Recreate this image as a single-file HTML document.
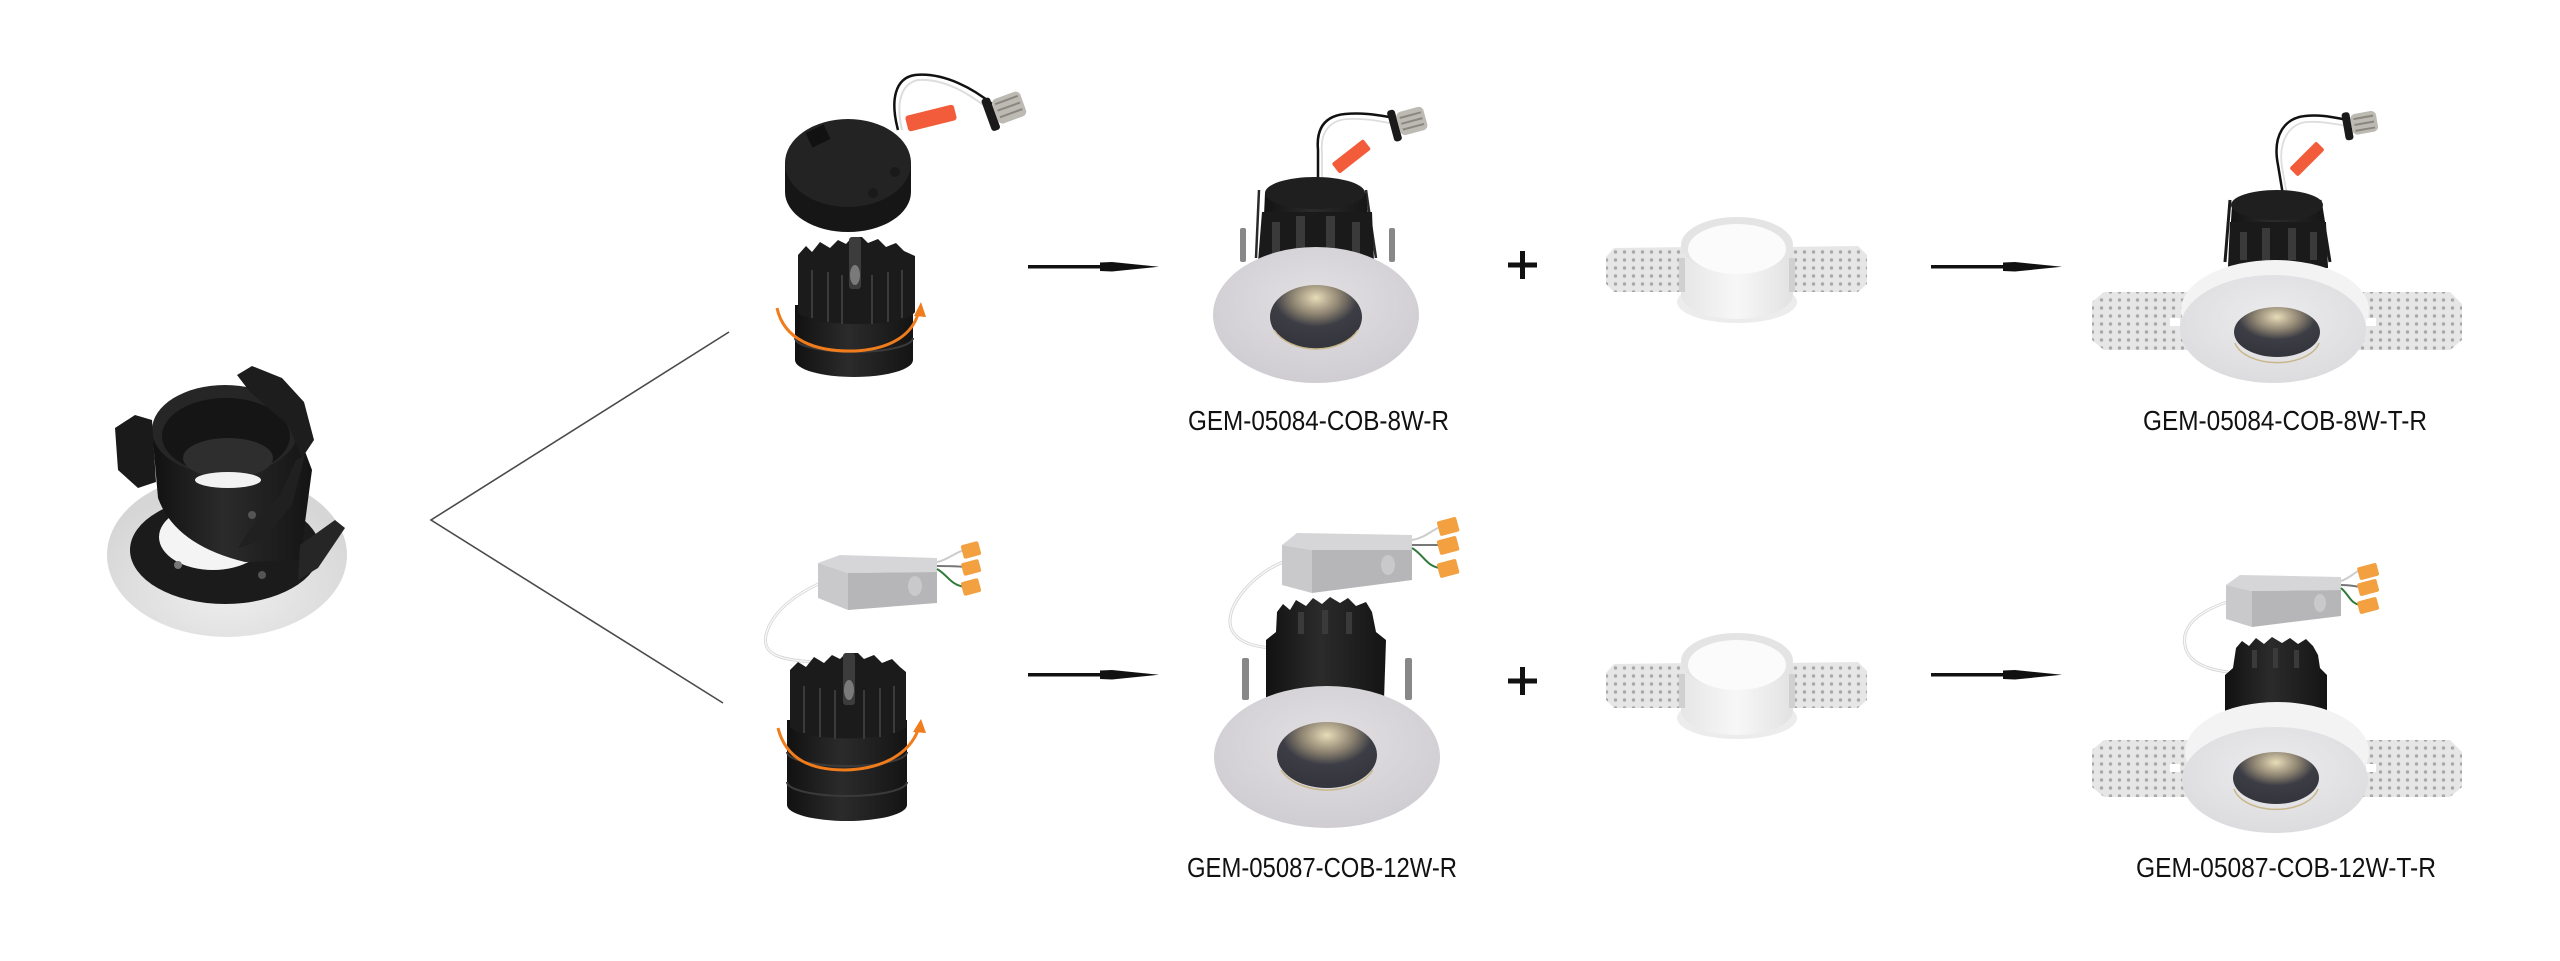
<!DOCTYPE html>
<html>
<head>
<meta charset="utf-8">
<style>
html,body{margin:0;padding:0;background:#fff;}
body{width:2560px;height:961px;overflow:hidden;}
svg{display:block;}
text{font-family:"Liberation Sans",Arial,sans-serif;}
</style>
</head>
<body>
<svg width="2560" height="961" viewBox="0 0 2560 961" xmlns="http://www.w3.org/2000/svg">
<defs>
  <pattern id="dots" width="9" height="8" patternUnits="userSpaceOnUse">
    <rect width="9" height="8" fill="#e6e6e6"/>
    <circle cx="4.5" cy="4" r="1.7" fill="#a9a9a9"/>
  </pattern>
  <radialGradient id="discG" cx="50%" cy="40%" r="60%">
    <stop offset="0" stop-color="#e2e0e3"/>
    <stop offset="1" stop-color="#cfcdd1"/>
  </radialGradient>
  <radialGradient id="discW" cx="50%" cy="40%" r="60%">
    <stop offset="0" stop-color="#ececee"/>
    <stop offset="1" stop-color="#dcdcdf"/>
  </radialGradient>
  <radialGradient id="apG" cx="50%" cy="20%" r="75%">
    <stop offset="0" stop-color="#e8dcb8"/>
    <stop offset="0.35" stop-color="#8c8270"/>
    <stop offset="0.6" stop-color="#3c3d45"/>
    <stop offset="1" stop-color="#34353d"/>
  </radialGradient>
  <linearGradient id="blackG" x1="0" x2="1" y1="0" y2="0">
    <stop offset="0" stop-color="#111"/>
    <stop offset="0.45" stop-color="#2b2b2b"/>
    <stop offset="1" stop-color="#141414"/>
  </linearGradient>
  <radialGradient id="flangeG" cx="50%" cy="70%" r="60%">
    <stop offset="0" stop-color="#efefef"/>
    <stop offset="1" stop-color="#d6d6d6"/>
  </radialGradient>
  <linearGradient id="ringG" x1="0" x2="1">
    <stop offset="0" stop-color="#e6e6e6"/>
    <stop offset="0.5" stop-color="#f7f7f7"/>
    <stop offset="1" stop-color="#e2e2e2"/>
  </linearGradient>
</defs>

<rect width="2560" height="961" fill="#fff"/>

<!-- ========== LEFT FIXTURE ========== -->
<g>
  <ellipse cx="227" cy="555" rx="120" ry="82" fill="url(#flangeG)"/>
  <ellipse cx="225" cy="550" rx="95" ry="54" fill="#1b1b1b"/>
  <ellipse cx="213" cy="537" rx="54" ry="33" fill="#f4f4f4"/>
  <path d="M152,430 L158,498 Q175,545 245,562 L300,560 L312,470 L297,430 Z" fill="url(#blackG)"/>
  <ellipse cx="225" cy="430" rx="73" ry="45" fill="#262626"/>
  <ellipse cx="226" cy="436" rx="64" ry="38" fill="#151515"/>
  <ellipse cx="228" cy="458" rx="45" ry="20" fill="#2e2e2e"/>
  <ellipse cx="228" cy="480" rx="33" ry="8" fill="#f2f2f2"/>
  <path d="M115,428 L135,415 L152,420 L156,482 L138,488 L118,470 Z" fill="#1a1a1a"/>
  <path d="M237,375 L252,366 L282,378 L304,402 L314,440 L302,458 L288,425 L250,392 Z" fill="#1d1d1d"/>
  <path d="M305,455 L292,505 L262,540 L238,548 L250,530 L280,495 L296,460 Z" fill="#202020"/>
  <path d="M300,545 L335,520 L345,528 L318,568 L298,580 Z" fill="#262626"/>
  <circle cx="252" cy="515" r="4" fill="#555"/>
  <circle cx="178" cy="565" r="4" fill="#777"/>
  <circle cx="262" cy="575" r="4" fill="#555"/>
</g>

<!-- ========== V LINES ========== -->
<polyline points="729,332 431,520 723,703" fill="none" stroke="#4a4a4a" stroke-width="1.6"/>

<!-- ========== ROW 1 : PUCK DRIVER + HEAT SINK ========== -->
<g>
  <path d="M898,130 C890,100 895,78 915,75 C945,72 975,90 992,104" fill="none" stroke="#111" stroke-width="2.5"/>
  <path d="M902,130 C896,104 900,84 918,80 C946,78 972,96 990,110" fill="none" stroke="#ddd" stroke-width="2"/>
  <rect x="906" y="110" width="50" height="16" rx="3" fill="#f25c3a" transform="rotate(-14 931 118)"/>
  <g transform="rotate(-20 1005 108)">
    <rect x="985" y="92" width="9" height="34" rx="3" fill="#1a1a1a"/>
    <rect x="994" y="96" width="30" height="26" rx="5" fill="#bdbab4"/>
    <line x1="997" y1="101" x2="1021" y2="101" stroke="#8a877f" stroke-width="2"/>
    <line x1="997" y1="108" x2="1021" y2="108" stroke="#8a877f" stroke-width="2"/>
    <line x1="997" y1="115" x2="1021" y2="115" stroke="#8a877f" stroke-width="2"/>
  </g>
  <path d="M785,165 A63,45 0 0 1 911,165 L911,192 A63,40 0 0 1 785,192 Z" fill="#161616"/>
  <ellipse cx="848" cy="163" rx="63" ry="44" fill="#232323"/>
  <rect x="808" y="128" width="20" height="16" fill="#111" transform="rotate(-25 818 136)"/>
  <circle cx="895" cy="172" r="5" fill="#1a1a1a"/>
  <circle cx="873" cy="193" r="5" fill="#1a1a1a"/>

  <path d="M795,305 L795,360 A59,17 0 0 0 913,360 L913,305 Z" fill="url(#blackG)"/>
  <path d="M795,338 A59,14 0 0 0 913,338" fill="none" stroke="#3a3a3a" stroke-width="2"/>
  <path d="M798,255 L806,246 L812,252 L820,242 L830,248 L838,240 L846,244 L852,237 L862,237 L868,243 L878,239 L886,247 L896,243 L904,251 L915,256 L915,312 A59,14 0 0 1 798,312 Z" fill="#1b1b1b"/>
  <g stroke="#3b3b3b" stroke-width="2">
    <line x1="812" y1="270" x2="812" y2="318"/>
    <line x1="828" y1="272" x2="828" y2="322"/>
    <line x1="842" y1="275" x2="842" y2="324"/>
    <line x1="872" y1="275" x2="872" y2="324"/>
    <line x1="888" y1="272" x2="888" y2="322"/>
    <line x1="902" y1="270" x2="902" y2="318"/>
  </g>
  <rect x="849" y="237" width="12" height="52" rx="3" fill="#3c3c3c"/>
  <ellipse cx="855" cy="275" rx="5" ry="10" fill="#7a7a7a"/>
  <path d="M777,308 C784,340 815,352 855,351 C892,349 912,334 918,314" fill="none" stroke="#f07c1c" stroke-width="3"/>
  <polygon points="921,302 914,316 926,317" fill="#f07c1c"/>
</g>

<!-- ========== ROW 2 : BOX DRIVER + HEAT SINK ========== -->
<g>
  <path d="M835,577 C800,590 772,610 766,635 C762,655 780,660 815,662" fill="none" stroke="#d2d2d2" stroke-width="3"/>
  <path d="M835,577 C800,590 772,610 766,635 C762,655 780,660 815,662" fill="none" stroke="#f7f7f7" stroke-width="1.5"/>
  <polygon points="818,563 840,555 937,558 937,572 848,573" fill="#d6d6d8"/>
  <polygon points="818,563 848,573 848,610 818,598" fill="#c9c9cc"/>
  <polygon points="848,573 937,572 937,603 848,610" fill="#b6b6b9"/>
  <ellipse cx="915" cy="586" rx="7" ry="10" fill="#c9c9cc"/>
  <path d="M937,562 C948,560 955,552 965,550" fill="none" stroke="#ccc" stroke-width="2"/>
  <path d="M937,566 C950,566 955,566 965,567" fill="none" stroke="#777" stroke-width="2"/>
  <path d="M937,569 C948,575 950,585 965,587" fill="none" stroke="#2f7a3a" stroke-width="2"/>
  <g fill="#f2a040">
    <rect x="962" y="543" width="18" height="14" rx="2" transform="rotate(-15 971 550)"/>
    <rect x="962" y="561" width="18" height="13" rx="2" transform="rotate(-15 971 567)"/>
    <rect x="962" y="580" width="18" height="14" rx="2" transform="rotate(-15 971 587)"/>
  </g>
  <path d="M787,720 L787,805 A60,16 0 0 0 907,805 L907,720 Z" fill="url(#blackG)"/>
  <path d="M787,752 A60,14 0 0 0 907,752" fill="none" stroke="#3a3a3a" stroke-width="2"/>
  <path d="M787,782 A60,14 0 0 0 907,782" fill="none" stroke="#3a3a3a" stroke-width="2"/>
  <path d="M790,670 L798,662 L806,667 L814,657 L824,663 L832,655 L840,659 L846,653 L858,653 L864,659 L874,655 L882,663 L892,659 L900,667 L906,672 L906,727 A59,14 0 0 1 790,727 Z" fill="#1b1b1b"/>
  <g stroke="#3b3b3b" stroke-width="2">
    <line x1="804" y1="686" x2="804" y2="733"/>
    <line x1="820" y1="688" x2="820" y2="737"/>
    <line x1="835" y1="690" x2="835" y2="739"/>
    <line x1="864" y1="690" x2="864" y2="739"/>
    <line x1="880" y1="688" x2="880" y2="737"/>
    <line x1="894" y1="686" x2="894" y2="733"/>
  </g>
  <rect x="843" y="653" width="12" height="52" rx="3" fill="#3c3c3c"/>
  <ellipse cx="849" cy="690" rx="5" ry="10" fill="#7a7a7a"/>
  <path d="M778,728 C786,760 812,770 845,770 C885,769 910,752 918,730" fill="none" stroke="#f07c1c" stroke-width="3"/>
  <polygon points="921,719 913,732 926,733" fill="#f07c1c"/>
</g>

<!-- ========== ARROWS ========== -->
<g fill="#111">
  <rect x="1028" y="265" width="78" height="3.5"/>
  <polygon points="1100,262.5 1112,262 1159,266.8 1112,271.5 1100,271"/>
  <rect x="1931" y="265" width="78" height="3.5"/>
  <polygon points="2003,262.5 2015,262 2062,266.8 2015,271.5 2003,271"/>
  <rect x="1028" y="673" width="78" height="3.5"/>
  <polygon points="1100,670.5 1112,670 1159,674.8 1112,679.5 1100,679"/>
  <rect x="1931" y="673" width="78" height="3.5"/>
  <polygon points="2003,670.5 2015,670 2062,674.8 2015,679.5 2003,679"/>
</g>

<!-- ========== PLUS SIGNS ========== -->
<g fill="#111">
  <rect x="1508" y="262.5" width="29" height="5"/>
  <rect x="1520" y="251" width="5" height="28"/>
  <rect x="1508" y="678.5" width="29" height="5"/>
  <rect x="1520" y="667" width="5" height="28"/>
</g>

<!-- ========== ROW 1 : FIXTURE 8W-R ========== -->
<g>
  <path d="M1318,178 L1318,150 C1316,128 1325,116 1345,114 C1365,112 1382,116 1396,118" fill="none" stroke="#111" stroke-width="2.5"/>
  <path d="M1322,178 L1322,152 C1320,132 1330,120 1348,119 C1368,118 1382,122 1396,124" fill="none" stroke="#ddd" stroke-width="1.8"/>
  <rect x="1331" y="150" width="40" height="13" rx="2" fill="#f25c3a" transform="rotate(-38 1351 156)"/>
  <g transform="rotate(-15 1408 122)">
    <rect x="1390" y="106" width="8" height="32" rx="3" fill="#1a1a1a"/>
    <rect x="1398" y="110" width="28" height="24" rx="5" fill="#bdbab4"/>
    <line x1="1401" y1="116" x2="1423" y2="116" stroke="#8a877f" stroke-width="2"/>
    <line x1="1401" y1="122" x2="1423" y2="122" stroke="#8a877f" stroke-width="2"/>
    <line x1="1401" y1="128" x2="1423" y2="128" stroke="#8a877f" stroke-width="2"/>
  </g>
  <path d="M1259,190 L1256,258" stroke="#2a2a2a" stroke-width="2.5"/>
  <path d="M1366,190 L1376,258" stroke="#2a2a2a" stroke-width="2.5"/>
  <rect x="1240" y="228" width="6" height="34" rx="2" fill="#888"/>
  <rect x="1389" y="228" width="6" height="34" rx="2" fill="#888"/>
  <path d="M1265,193 L1262,260 L1372,260 L1366,193 Z" fill="url(#blackG)"/>
  <path d="M1262,212 L1372,212 L1374,262 L1258,262 Z" fill="#1a1a1a"/>
  <g fill="#3a3a3a">
    <rect x="1272" y="222" width="8" height="32"/>
    <rect x="1296" y="216" width="9" height="36"/>
    <rect x="1326" y="216" width="9" height="36"/>
    <rect x="1352" y="222" width="8" height="32"/>
  </g>
  <ellipse cx="1315" cy="193" rx="50" ry="16" fill="#1f1f1f"/>
  <ellipse cx="1316" cy="315" rx="103" ry="68" fill="url(#discG)"/>
  <ellipse cx="1316" cy="317" rx="46" ry="32" fill="url(#apG)"/>
  <path d="M1274,330 A46,32 0 0 0 1358,330" fill="none" stroke="#c8b68a" stroke-width="1.5"/>
</g>

<!-- ========== ROW 2 : FIXTURE 12W-R ========== -->
<g>
  <path d="M1297,557 C1270,565 1250,580 1237,600 C1222,625 1230,645 1272,648" fill="none" stroke="#d2d2d2" stroke-width="3"/>
  <path d="M1297,557 C1270,565 1250,580 1237,600 C1222,625 1230,645 1272,648" fill="none" stroke="#f7f7f7" stroke-width="1.5"/>
  <polygon points="1282,545 1297,533 1412,535 1412,550 1312,550" fill="#d6d6d8"/>
  <polygon points="1282,545 1312,550 1312,593 1282,585" fill="#c9c9cc"/>
  <polygon points="1312,550 1412,550 1412,580 1312,593" fill="#b6b6b9"/>
  <ellipse cx="1388" cy="565" rx="7" ry="10" fill="#c9c9cc"/>
  <path d="M1412,540 C1425,538 1432,530 1440,527" fill="none" stroke="#ccc" stroke-width="2"/>
  <path d="M1412,545 C1425,545 1430,545 1440,545" fill="none" stroke="#777" stroke-width="2"/>
  <path d="M1412,548 C1424,555 1426,566 1440,568" fill="none" stroke="#2f7a3a" stroke-width="2"/>
  <g fill="#f2a040">
    <rect x="1438" y="519" width="20" height="15" rx="2" transform="rotate(-15 1448 526)"/>
    <rect x="1438" y="538" width="20" height="15" rx="2" transform="rotate(-15 1448 545)"/>
    <rect x="1438" y="561" width="20" height="15" rx="2" transform="rotate(-15 1448 568)"/>
  </g>
  <rect x="1242" y="658" width="7" height="42" rx="2" fill="#888"/>
  <rect x="1405" y="658" width="7" height="42" rx="2" fill="#888"/>
  <path d="M1277,612 L1283,604 L1290,610 L1296,600 L1306,606 L1313,598 L1322,604 L1330,597 L1340,603 L1348,598 L1356,606 L1366,602 L1372,612 L1376,632 L1386,640 L1384,700 L1266,700 L1266,640 L1276,632 Z" fill="url(#blackG)"/>
  <g fill="#3a3a3a">
    <rect x="1298" y="612" width="6" height="22"/>
    <rect x="1322" y="610" width="6" height="24"/>
    <rect x="1346" y="612" width="6" height="22"/>
  </g>
  <ellipse cx="1327" cy="757" rx="113" ry="71" fill="url(#discG)"/>
  <ellipse cx="1327" cy="755" rx="50" ry="33" fill="url(#apG)"/>
  <path d="M1281,770 A50,33 0 0 0 1373,770" fill="none" stroke="#c8b68a" stroke-width="1.5"/>
</g>

<!-- ========== TRIM FRAMES ========== -->
<g>
  <polygon points="1606,257 1614,248 1690,247 1690,292 1614,292 1606,284" fill="url(#dots)"/>
  <polygon points="1783,247 1858,246 1867,255 1867,284 1858,292 1783,292" fill="url(#dots)"/>
  <ellipse cx="1737" cy="302" rx="60" ry="21" fill="#ececec"/>
  <path d="M1681,245 L1681,295 A56,24 0 0 0 1793,295 L1793,245 Z" fill="url(#ringG)"/>
  <ellipse cx="1737" cy="245" rx="56" ry="28" fill="#e4e4e4"/>
  <ellipse cx="1737" cy="249" rx="49" ry="25" fill="#fbfbfb"/>
  <rect x="1679" y="258" width="6" height="34" fill="#d0d0d0"/>
  <rect x="1789" y="258" width="6" height="34" fill="#d0d0d0"/>
</g>
<g transform="translate(0,416)">
  <polygon points="1606,257 1614,248 1690,247 1690,292 1614,292 1606,284" fill="url(#dots)"/>
  <polygon points="1783,247 1858,246 1867,255 1867,284 1858,292 1783,292" fill="url(#dots)"/>
  <ellipse cx="1737" cy="302" rx="60" ry="21" fill="#ececec"/>
  <path d="M1681,245 L1681,295 A56,24 0 0 0 1793,295 L1793,245 Z" fill="url(#ringG)"/>
  <ellipse cx="1737" cy="245" rx="56" ry="28" fill="#e4e4e4"/>
  <ellipse cx="1737" cy="249" rx="49" ry="25" fill="#fbfbfb"/>
  <rect x="1679" y="258" width="6" height="34" fill="#d0d0d0"/>
  <rect x="1789" y="258" width="6" height="34" fill="#d0d0d0"/>
</g>

<!-- ========== ROW 1 : FINAL FIXTURE 8W-T-R ========== -->
<g>
  <path d="M2283,195 L2278,165 C2272,135 2285,118 2305,116 C2322,114 2336,118 2348,120" fill="none" stroke="#111" stroke-width="2.5"/>
  <path d="M2287,195 L2282,167 C2278,140 2290,124 2306,122 C2322,121 2334,124 2348,126" fill="none" stroke="#ddd" stroke-width="1.8"/>
  <rect x="2288" y="153" width="38" height="12" rx="2" fill="#f25c3a" transform="rotate(-45 2307 159)"/>
  <g transform="rotate(-10 2360 122)">
    <rect x="2343" y="110" width="8" height="28" rx="3" fill="#1a1a1a"/>
    <rect x="2351" y="113" width="26" height="21" rx="5" fill="#bdbab4"/>
    <line x1="2354" y1="118" x2="2374" y2="118" stroke="#8a877f" stroke-width="2"/>
    <line x1="2354" y1="124" x2="2374" y2="124" stroke="#8a877f" stroke-width="2"/>
    <line x1="2354" y1="130" x2="2374" y2="130" stroke="#8a877f" stroke-width="2"/>
  </g>
  <path d="M2230,200 L2225,262" stroke="#1a1a1a" stroke-width="3"/>
  <path d="M2320,200 L2330,262" stroke="#1a1a1a" stroke-width="3"/>
  <polygon points="2092,302 2104,292 2200,292 2200,350 2104,350 2092,340" fill="url(#dots)"/>
  <polygon points="2350,292 2450,292 2462,304 2462,340 2450,350 2350,350" fill="url(#dots)"/>
  <rect x="2170" y="318" width="10" height="8" fill="#fff"/>
  <rect x="2366" y="318" width="10" height="8" fill="#fff"/>
  <path d="M2232,205 L2228,268 L2328,268 L2322,205 Z" fill="url(#blackG)"/>
  <path d="M2230,222 L2326,222 L2328,268 L2228,268 Z" fill="#1a1a1a"/>
  <g fill="#3a3a3a">
    <rect x="2240" y="232" width="7" height="28"/>
    <rect x="2262" y="228" width="8" height="32"/>
    <rect x="2288" y="228" width="8" height="32"/>
    <rect x="2310" y="232" width="7" height="28"/>
  </g>
  <ellipse cx="2277" cy="205" rx="46" ry="15" fill="#1f1f1f"/>
  <ellipse cx="2275" cy="310" rx="94" ry="50" fill="#f3f3f3"/>
  <ellipse cx="2273" cy="329" rx="93" ry="54" fill="url(#discW)"/>
  <ellipse cx="2277" cy="332" rx="43" ry="25" fill="url(#apG)"/>
  <path d="M2235,343 A43,25 0 0 0 2319,343" fill="none" stroke="#c8b68a" stroke-width="1.5"/>
</g>

<!-- ========== ROW 2 : FINAL FIXTURE 12W-T-R ========== -->
<g>
  <path d="M2245,596 C2215,605 2190,615 2185,635 C2182,655 2195,668 2228,672" fill="none" stroke="#d2d2d2" stroke-width="3"/>
  <path d="M2245,596 C2215,605 2190,615 2185,635 C2182,655 2195,668 2228,672" fill="none" stroke="#f7f7f7" stroke-width="1.5"/>
  <polygon points="2226,585 2240,575 2341,577 2341,590 2252,591" fill="#d6d6d8"/>
  <polygon points="2226,585 2252,591 2252,627 2226,619" fill="#c9c9cc"/>
  <polygon points="2252,591 2341,590 2341,616 2252,627" fill="#b6b6b9"/>
  <ellipse cx="2320" cy="603" rx="6" ry="9" fill="#c9c9cc"/>
  <path d="M2341,581 C2350,578 2355,572 2360,570" fill="none" stroke="#ccc" stroke-width="2"/>
  <path d="M2341,585 C2350,585 2354,586 2360,587" fill="none" stroke="#777" stroke-width="2"/>
  <path d="M2341,588 C2350,596 2350,603 2360,605" fill="none" stroke="#2f7a3a" stroke-width="2"/>
  <g fill="#f2a040">
    <rect x="2358" y="565" width="20" height="13" rx="2" transform="rotate(-15 2368 571)"/>
    <rect x="2358" y="581" width="20" height="13" rx="2" transform="rotate(-15 2368 587)"/>
    <rect x="2358" y="599" width="20" height="13" rx="2" transform="rotate(-15 2368 605)"/>
  </g>
  <polygon points="2092,750 2104,740 2200,740 2200,797 2104,797 2092,787" fill="url(#dots)"/>
  <polygon points="2350,740 2450,740 2462,752 2462,787 2450,797 2350,797" fill="url(#dots)"/>
  <rect x="2170" y="764" width="10" height="8" fill="#fff"/>
  <rect x="2366" y="764" width="10" height="8" fill="#fff"/>
  <path d="M2236,648 L2242,641 L2249,646 L2256,638 L2264,644 L2272,637 L2282,643 L2290,638 L2298,644 L2306,639 L2313,646 L2318,655 L2320,668 L2327,675 L2327,728 L2225,728 L2225,675 L2233,668 Z" fill="url(#blackG)"/>
  <g fill="#3a3a3a">
    <rect x="2252" y="650" width="5" height="18"/>
    <rect x="2273" y="648" width="5" height="20"/>
    <rect x="2294" y="650" width="5" height="18"/>
  </g>
  <ellipse cx="2277" cy="752" rx="92" ry="50" fill="#f3f3f3"/>
  <ellipse cx="2275" cy="780" rx="93" ry="53" fill="url(#discW)"/>
  <ellipse cx="2276" cy="778" rx="43" ry="26" fill="url(#apG)"/>
  <path d="M2234,789 A43,26 0 0 0 2318,789" fill="none" stroke="#c8b68a" stroke-width="1.5"/>
</g>

<!-- ========== LABELS ========== -->
<g fill="#111" font-size="28">
  <text x="1188" y="430" textLength="261" lengthAdjust="spacingAndGlyphs">GEM-05084-COB-8W-R</text>
  <text x="2143" y="430" textLength="284" lengthAdjust="spacingAndGlyphs">GEM-05084-COB-8W-T-R</text>
  <text x="1187" y="877" textLength="270" lengthAdjust="spacingAndGlyphs">GEM-05087-COB-12W-R</text>
  <text x="2136" y="877" textLength="300" lengthAdjust="spacingAndGlyphs">GEM-05087-COB-12W-T-R</text>
</g>
</svg>
</body>
</html>
